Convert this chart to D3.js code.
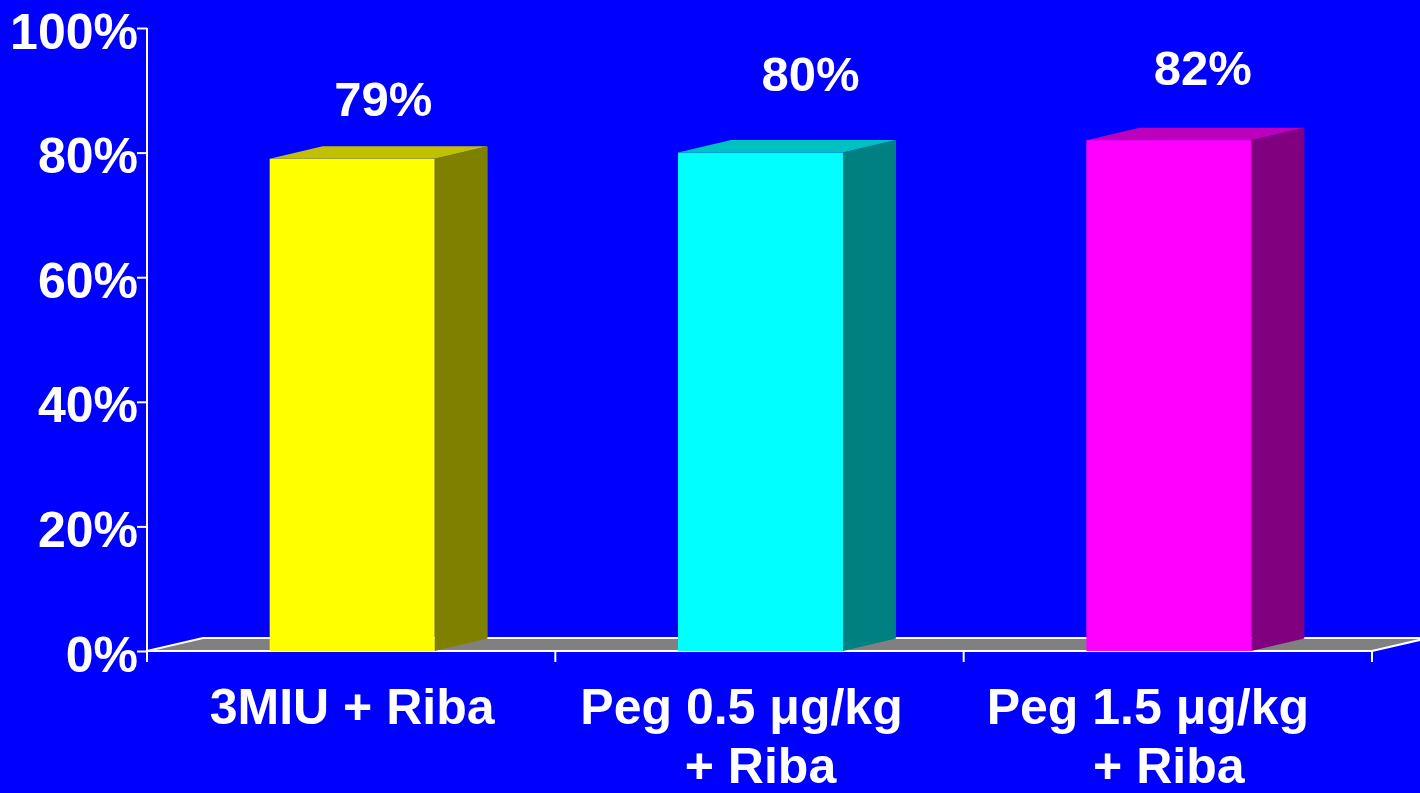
<!DOCTYPE html>
<html>
<head>
<meta charset="utf-8">
<script src="https://cdn.jsdelivr.net/npm/d3@7"></script>
<style>
  html, body { margin: 0; padding: 0; background: #0000FF; }
  svg { display: block; }
  text { font-family: "Liberation Sans", Arial, sans-serif; font-weight: bold; fill: #FFFFFF; }
</style>
</head>
<body>
<svg id="chart" width="1420" height="793"></svg>
<script>
// ---- data ----
const categories = ["3MIU + Riba", "Peg 0.5 \u03BCg/kg + Riba", "Peg 1.5 \u03BCg/kg + Riba"];
const categoryLines = [["3MIU + Riba"], ["Peg 0.5 \u03BCg/kg", "+ Riba"], ["Peg 1.5 \u03BCg/kg", "+ Riba"]];
const values = [79, 80, 82];
const valueLabels = ["79%", "80%", "82%"];
const yTicks = [0, 20, 40, 60, 80, 100];
const yTickLabels = ["0%", "20%", "40%", "60%", "80%", "100%"];

// ---- style / layout ----
const frontColors = ["#FFFF00", "#00FFFF", "#FF00FF"];
const topColors = ["#C0C000", "#00C0C0", "#BC00BC"];
const sideColors = ["#808000", "#008080", "#800080"];
const valueLabelNudge = [[32, -43], [51, -62], [35, -55]];
const catLine1Nudge = [1, -18, -20];

const svg = d3.select("#chart");
const W = 1420, H = 793;
svg.append("rect").attr("width", W).attr("height", H).attr("fill", "#0000FF");

const x = d3.scaleBand().domain(categories).range([147, 1372]).padding(0);
const y = d3.scaleLinear().domain([0, 100]).range([651, 28]);

const barDX = 53, barDY = 12.5;
const floorDX = 56, floorDY = 13;

// floor
const y0 = y(0);
const xL = x.range()[0], xR = x.range()[1];
svg.append("polygon")
  .attr("points", [[xL, y0], [xR, y0], [xR + floorDX, y0 - floorDY], [xL + floorDX, y0 - floorDY]].map(p => p.join(",")).join(" "))
  .attr("fill", "#808080")
  .attr("stroke", "#FFFFFF")
  .attr("stroke-width", 2)
  .attr("stroke-linejoin", "miter");

// bars
const barW = x.bandwidth() * 0.404;
const g = svg.append("g");
categories.forEach((c, i) => {
  const cx = x(c) + x.bandwidth() / 2 + 1;
  const x1 = cx - barW / 2, x2 = cx + barW / 2;
  const yt = y(values[i]);
  // side
  g.append("polygon")
    .attr("points", [[x2, y0], [x2 + barDX, y0 - barDY], [x2 + barDX, yt - barDY], [x2, yt]].map(p => p.join(",")).join(" "))
    .attr("fill", sideColors[i]);
  // top
  g.append("polygon")
    .attr("points", [[x1, yt], [x2, yt], [x2 + barDX, yt - barDY], [x1 + barDX, yt - barDY]].map(p => p.join(",")).join(" "))
    .attr("fill", topColors[i]);
  // front
  g.append("rect")
    .attr("x", x1).attr("y", yt)
    .attr("width", barW).attr("height", y0 - yt)
    .attr("fill", frontColors[i]);
  // value label
  svg.append("text")
    .attr("x", x(c) + x.bandwidth() / 2 + valueLabelNudge[i][0])
    .attr("y", yt + valueLabelNudge[i][1])
    .attr("text-anchor", "middle")
    .attr("font-size", 49)
    .text(valueLabels[i]);
});

// y axis
const yAxis = d3.axisLeft(y).tickValues(yTicks).tickFormat((d, i) => yTickLabels[i]).tickSize(10).tickSizeOuter(0);
const ya = svg.append("g").attr("transform", `translate(${xL},0)`).call(yAxis);
ya.select(".domain").remove();
ya.selectAll(".tick line").attr("stroke", "#FFFFFF").attr("stroke-width", 2);
ya.selectAll(".tick text")
  .attr("x", -9).attr("dy", null).attr("y", 20)
  .attr("font-size", 50)
  .attr("font-family", "'Liberation Sans', Arial, sans-serif")
  .attr("font-weight", "bold")
  .attr("fill", "#FFFFFF");
svg.append("line")
  .attr("x1", xL).attr("x2", xL)
  .attr("y1", y(100)).attr("y2", y0 + 11)
  .attr("stroke", "#FFFFFF").attr("stroke-width", 2);

// x axis ticks at band edges
const edges = categories.map(c => x(c)).concat([xR]);
svg.selectAll(".xtick").data(edges.slice(1)).enter().append("line")
  .attr("class", "xtick")
  .attr("x1", d => d).attr("x2", d => d)
  .attr("y1", y0).attr("y2", y0 + 11)
  .attr("stroke", "#FFFFFF").attr("stroke-width", 2);

// category labels
categories.forEach((c, i) => {
  const cx = x(c) + x.bandwidth() / 2;
  categoryLines[i].forEach((line, j) => {
    svg.append("text")
      .attr("x", cx + (j === 0 ? catLine1Nudge[i] : 1))
      .attr("y", 724 + j * 59)
      .attr("text-anchor", "middle")
      .attr("font-size", 50)
      .text(line);
  });
});
</script>
</body>
</html>
